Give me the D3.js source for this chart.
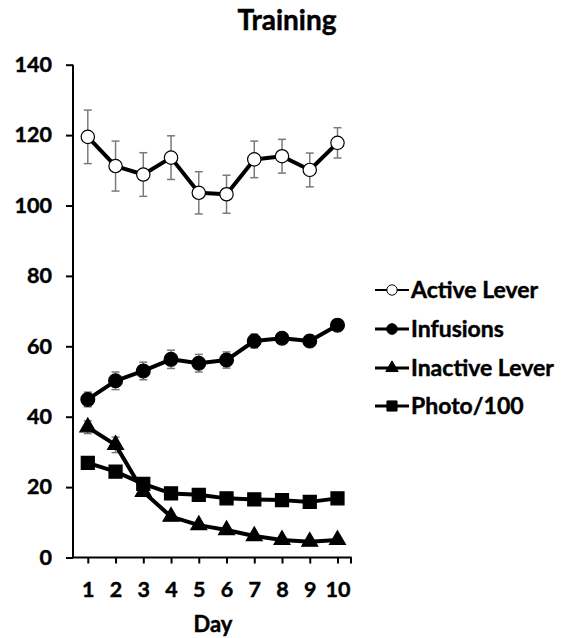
<!DOCTYPE html>
<html>
<head>
<meta charset="utf-8">
<script src="https://cdn.jsdelivr.net/npm/d3@7"></script>
<style>
  body { margin: 0; background: #fff; }
  text { font-family: Lato, "Open Sans", sans-serif; font-weight: bold; fill: #000; stroke: #000; stroke-width: 0.45px; }
</style>
</head>
<body>
<script>
// data
var days = [1, 2, 3, 4, 5, 6, 7, 8, 9, 10];
var yTicks = [0, 20, 40, 60, 80, 100, 120, 140];

var activeLever = [119.5, 111.2, 108.8, 113.6, 103.6, 103.2, 113.1, 114.0, 110.1, 117.8];
var activeSem   = [7.6, 7.1, 6.2, 6.2, 6.0, 5.4, 5.2, 4.8, 4.8, 4.3];
var infusions   = [44.9, 50.2, 53.0, 56.3, 55.2, 56.1, 61.5, 62.3, 61.5, 66.0];
var infusionSem = [2.1, 2.5, 2.5, 2.6, 2.5, 2.3, 2.0, 1.5, 1.5, 1.3];
var inactiveLever = [37.0, 32.0, 18.7, 11.6, 9.2, 7.8, 6.1, 5.0, 4.5, 5.0];
var inactiveSem   = [1.8, 2.2, 1.2, 0.8, 0.6, 0.5, 0.5, 0.4, 0.4, 0.4];
var photo    = [26.9, 24.4, 20.9, 18.2, 17.8, 16.8, 16.5, 16.3, 15.8, 16.8];
var photoSem = [0.8, 0.7, 0.6, 0.5, 0.5, 0.5, 0.4, 0.4, 0.4, 0.4];

var seriesNames = ["Active Lever", "Infusions", "Inactive Lever", "Photo/100"];

var series = [
    {name: seriesNames[0], values: activeLever, sem: activeSem, shape: d3.symbolCircle, size: 140, fill: "#fff"},
    {name: seriesNames[1], values: infusions, sem: infusionSem, shape: d3.symbolCircle, size: 150, fill: "#000"},
    {name: seriesNames[2], values: inactiveLever, sem: inactiveSem, shape: d3.symbolTriangle, size: 110, fill: "#000"},
    {name: seriesNames[3], values: photo, sem: photoSem, shape: d3.symbolSquare, size: 170, fill: "#000"}
];

var width = 561, height = 638;

var svg = d3.select("body")
    .append("svg")
    .attr("width", width)
    .attr("height", height);

var x = d3.scalePoint()
    .domain(days)
    .range([87.8, 337.5]);

var y = d3.scaleLinear()
    .domain([0, 140])
    .range([557.5, 64.7]);

//title
svg.append("text")
    .attr("x", 287)
    .attr("y", 30)
    .attr("text-anchor", "middle")
    .style("font-size", "28px")
    .text("Training");

//y axis
var yAxis = svg.append("g")
    .attr("transform", "translate(73,0)")
    .call(d3.axisLeft(y).tickValues(yTicks).tickSize(7).tickPadding(14));
yAxis.select(".domain").attr("stroke-width", 2).attr("d", "M0," + y(140) + "V" + y(0));
yAxis.selectAll(".tick line").attr("stroke-width", 2);
yAxis.selectAll(".tick text")
    .style("font-size", "21.5px")
    .style("font-family", "Lato, 'Open Sans', sans-serif")
    .style("font-weight", "bold");

//x axis
var xAxis = svg.append("g")
    .attr("transform", "translate(0," + y(0) + ")")
    .call(d3.axisBottom(x).tickSize(6).tickPadding(18));
xAxis.select(".domain").attr("stroke-width", 2).attr("d", "M73,0H351.7");
xAxis.selectAll(".tick line").attr("stroke-width", 2);
xAxis.selectAll(".tick text")
    .style("font-size", "21.5px")
    .style("font-family", "Lato, 'Open Sans', sans-serif")
    .style("font-weight", "bold");
xAxis.append("line")
    .attr("x1", 351).attr("x2", 351)
    .attr("y1", 0).attr("y2", 6)
    .attr("stroke", "#000").attr("stroke-width", 2);

svg.append("text")
    .attr("x", 213)
    .attr("y", 632)
    .attr("text-anchor", "middle")
    .style("font-size", "22px")
    .text("Day");

var line = d3.line()
    .x(function(d, i){ return x(days[i]); })
    .y(function(d){ return y(d); });

//error bars first, behind the markers
series.forEach(function(s){
    var g = svg.append("g").attr("class", "errbars");
    s.values.forEach(function(v, i){
        var cx = x(days[i]);
        g.append("line")
            .attr("x1", cx).attr("x2", cx)
            .attr("y1", y(v + s.sem[i])).attr("y2", y(v - s.sem[i]))
            .attr("stroke", "#7a7a7a").attr("stroke-width", 1.5);
        [v + s.sem[i], v - s.sem[i]].forEach(function(e){
            g.append("line")
                .attr("x1", cx - 4).attr("x2", cx + 4)
                .attr("y1", y(e)).attr("y2", y(e))
                .attr("stroke", "#7a7a7a").attr("stroke-width", 1.5);
        });
    });
});

//lines
series.forEach(function(s){
    svg.append("path")
        .datum(s.values)
        .attr("fill", "none")
        .attr("stroke", "#000")
        .attr("stroke-width", 4)
        .attr("stroke-linejoin", "round")
        .attr("d", line);
});

//markers
series.forEach(function(s){
    svg.append("g").selectAll("path")
        .data(s.values)
        .enter()
        .append("path")
        .attr("transform", function(d, i){ return "translate(" + x(days[i]) + "," + y(d) + ")"; })
        .attr("d", d3.symbol().type(s.shape).size(s.size))
        .attr("fill", s.fill)
        .attr("stroke", "#000")
        .attr("stroke-width", 1.2);
});

//legend
var legendY = [290, 329, 368, 406];
var legend = svg.append("g");
series.forEach(function(s, i){
    var row = legend.append("g").attr("transform", "translate(0," + legendY[i] + ")");
    row.append("line")
        .attr("x1", 375).attr("x2", 409)
        .attr("stroke", "#000")
        .attr("stroke-width", s.fill == "#fff" ? 2 : 3);
    row.append("path")
        .attr("transform", "translate(392,0)")
        .attr("d", d3.symbol().type(s.shape).size(s.size * 0.6))
        .attr("fill", s.fill)
        .attr("stroke", "#000")
        .attr("stroke-width", 1);
    row.append("text")
        .attr("x", 411)
        .attr("y", 8)
        .style("font-size", "23px")
        .text(s.name);
});
</script>
</body>
</html>
